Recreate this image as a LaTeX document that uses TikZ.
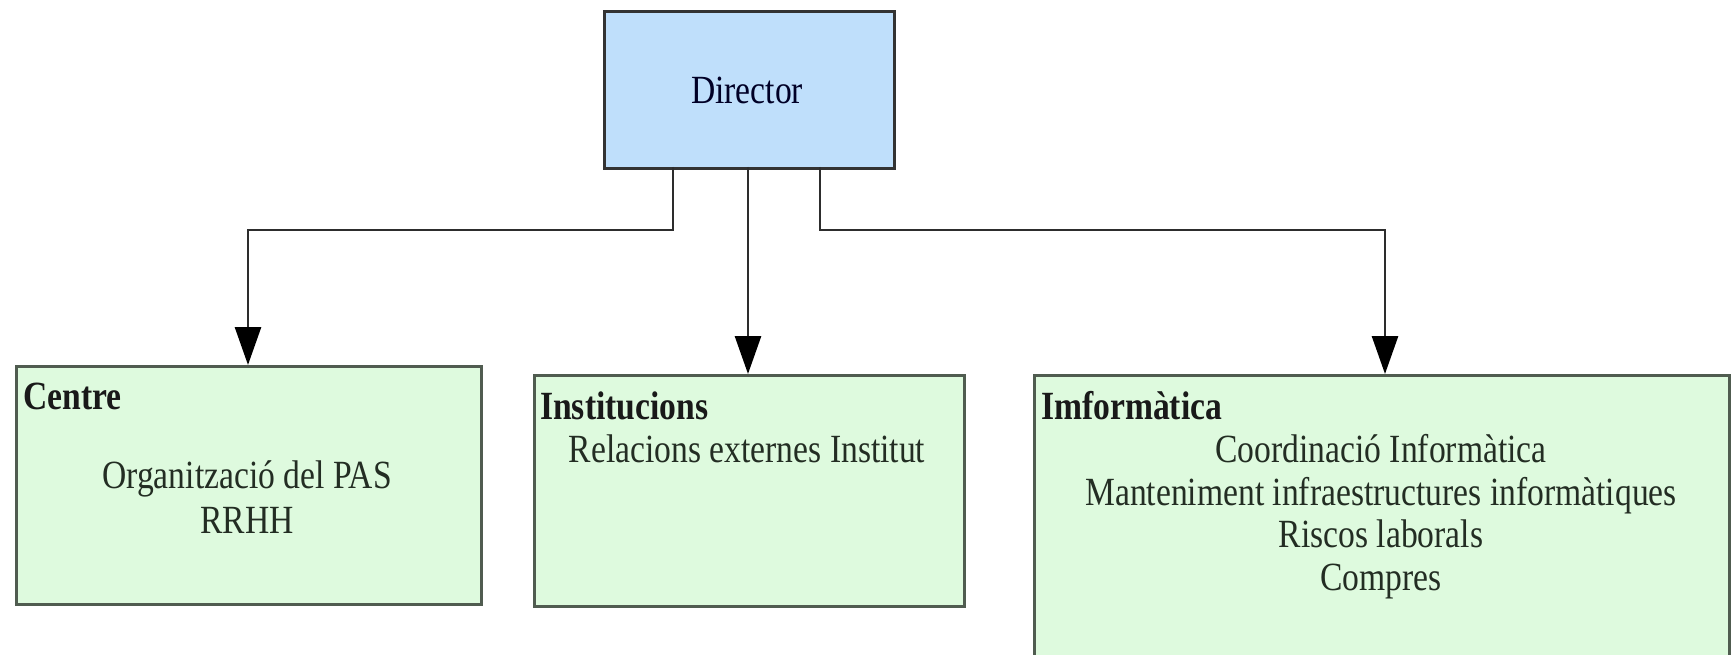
\documentclass[tikz,border=0pt]{standalone}
\usepackage{fontspec}
\setmainfont{Liberation Serif}[FakeStretch=0.84]
\usetikzlibrary{arrows.meta}
\definecolor{dirfill}{RGB}{191,223,251}
\definecolor{boxfill}{RGB}{222,250,222}
\definecolor{boxline}{RGB}{80,92,80}
\definecolor{conn}{RGB}{45,45,45}
\definecolor{txt}{RGB}{35,45,35}
\tikzset{
  box/.style={draw=boxline, line width=3pt, fill=boxfill, anchor=north west, inner sep=0pt},
  dirbox/.style={draw=black!80, line width=3pt, fill=dirfill, anchor=north west, inner sep=0pt,
    minimum width=290pt, minimum height=157pt},
  head/.style={anchor=base west, inner sep=0pt, font=\fontsize{40}{43}\selectfont\bfseries, text=black!90},
  body/.style={anchor=base, inner sep=0pt, font=\fontsize{40}{43}\selectfont, text=txt},
  conn/.style={draw=conn, line width=2.8pt, -{Triangle[length=38pt,width=26pt,fill=black,color=black]}}
}
\begin{document}
\begin{tikzpicture}[x=1pt,y=-1pt]
\useasboundingbox (0,0) rectangle (1732,655);
\clip (0,0) rectangle (1732,655);
% boxes
\node[dirbox] (dir) at (603,10) {};
\node[box, minimum width=465pt, minimum height=238pt] (centre) at (15,365) {};
\node[box, minimum width=430pt, minimum height=231pt] (inst) at (533,374) {};
\node[box, minimum width=695pt, minimum height=320pt] (info) at (1033,374) {};
% texts
\node[body, text=black!85!blue] (tdir) at (747,104) {Director};
\node[head] (tcentre) at (23,409) {Centre};
\node[body] (c1) at (247,488) {Organització del PAS};
\node[body] (c2) at (247,533) {RRHH};
\node[head] (tinst) at (540,419) {Institucions};
\node[body] (i1) at (747,462) {Relacions externes Institut};
\node[head] (tinfo) at (1041,419) {Imformàtica};
\node[body] (f1) at (1381,462) {Coordinació Informàtica};
\node[body] (f2) at (1381,505) {Manteniment infraestructures informàtiques};
\node[body] (f3) at (1381,547) {Riscos laborals};
\node[body] (f4) at (1381,590) {Compres};
% connectors
\coordinate (d1) at (673,167);
\coordinate (d2) at (748,167);
\coordinate (d3) at (820,167);
\coordinate (e1) at (248,365);
\coordinate (e2) at (748,374);
\coordinate (e3) at (1385,374);
\draw[conn] (d1) -- (673,230) -- (248,230) -- (e1);
\draw[conn] (d2) -- (e2);
\draw[conn] (d3) -- (820,230) -- (1385,230) -- (e3);
\end{tikzpicture}
\end{document}
